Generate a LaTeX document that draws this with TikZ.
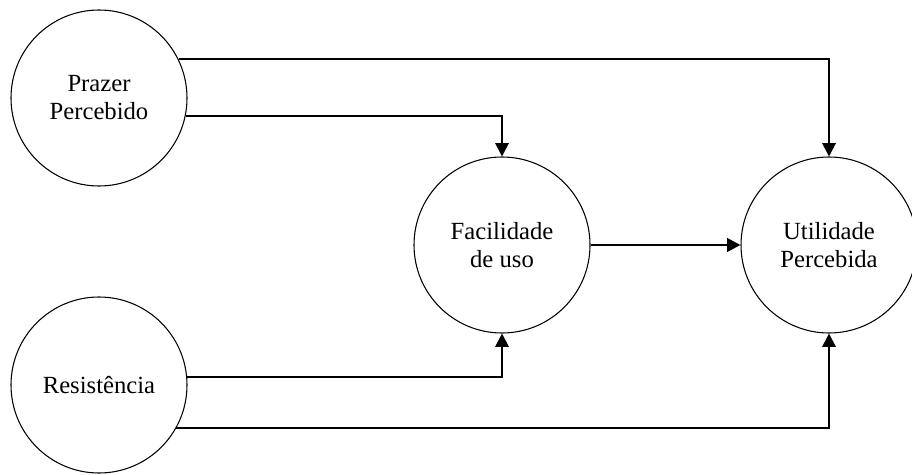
\documentclass[tikz,border=0pt]{standalone}
\usepackage{fontspec}
\setmainfont{Liberation Serif}
\usetikzlibrary{arrows.meta}

\begin{document}
\begin{tikzpicture}[x=.75pt, y=-.75pt,
  construto/.style={draw, thick, circle, minimum size=132pt, inner sep=0pt, align=center,
    font=\fontsize{18.5}{21}\selectfont},
  seta/.style={line width=1.5pt, -{Triangle[length=10pt,width=10pt]}}]
\useasboundingbox (0,0) rectangle (912,474);
\node[construto] (pp) at (99,98) {Prazer\\Percebido};
\node[construto] (re) at (99,385) {Resist\^encia};
\node[construto] (fu) at (502,245) {Facilidade\\de uso};
\node[construto] (ut) at (829,245) {Utilidade\\Percebida};
\draw[seta] (pp.26) -| (ut.north);
\draw[seta] (pp.-12) -| (fu.north);
\draw[seta] (re.5) -| (fu.south);
\draw[seta] (re.-29) -| (ut.south);
\draw[seta, line width=2.2pt] (fu.east) -- (ut.west);
\end{tikzpicture}
\end{document}
